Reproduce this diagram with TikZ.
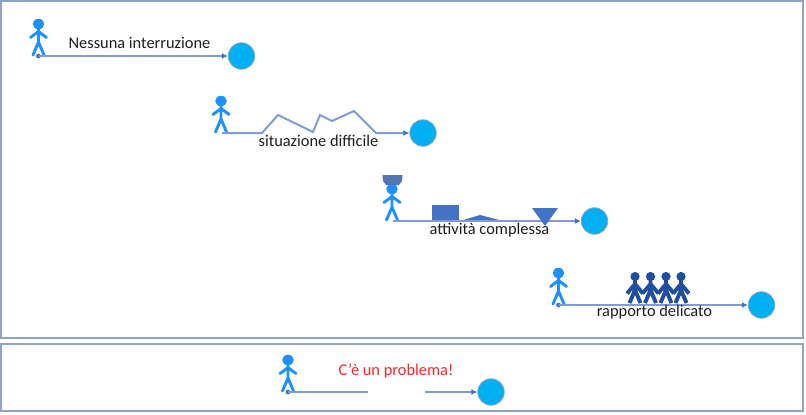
\documentclass[tikz,border=0pt]{standalone}
\usepackage{fontspec}
\setmainfont{Carlito}
\usetikzlibrary{arrows.meta}
\definecolor{frameblue}{HTML}{8FA3CC}
\definecolor{lineblue}{HTML}{7F9BD8}
\definecolor{shapeblue}{HTML}{4472C4}
\definecolor{manblue}{HTML}{1E90FF}
\definecolor{goalblue}{HTML}{00B0F0}
\definecolor{crowd}{HTML}{1F4E9E}
\tikzset{
  frame/.style={draw=frameblue,line width=1.3pt},
  goal/.style={circle,draw=frameblue,line width=.8pt,fill=goalblue,minimum size=26.5pt,inner sep=0pt},
  flow/.style={draw=lineblue,line width=2pt},
  flowarrow/.style={flow,-{Latex[length=6pt,width=6pt,color=shapeblue]}},
  label/.style={text=black!88,font=\fontsize{16.4}{18}\selectfont,inner sep=0pt},
}
\newcommand{\walker}[2]{%
  \begin{scope}[shift={(#1,#2)},draw=manblue,line width=2.9pt,line cap=round,line join=round]
    \fill[manblue] (0,-32) ellipse (5.8 and 5.2);
    \draw (0,-28) -- (0,-13) (-8,-18.5) -- (0,-24.5) -- (8,-18.5) (-5.5,-1) -- (0,-14) -- (5.5,-1);
  \end{scope}}
\newcommand{\crowdman}[2]{%
  \begin{scope}[shift={(#1,#2)},draw=crowd,line width=3.9pt,line join=round]
    \fill[crowd] (0,-26.5) circle (4.6);
    \draw (0,-23) -- (0,-10) (-8,-9.5) -- (0,-19) -- (8,-9.5) (-5.5,0) -- (0,-13) -- (5.5,0);
  \end{scope}}
\begin{document}
\begin{tikzpicture}[x=1pt,y=-1pt]
\useasboundingbox (0,0) rectangle (806,415);
\draw[frame] (1,1) rectangle (803,338);
\draw[frame] (1,344) rectangle (803,411);

% row 1
\walker{38.5}{56}
\coordinate (s1) at (38.5,56);
\node[goal] (g1) at (241.5,56) {};
\fill[shapeblue] (s1) circle (2.4);
\draw[flowarrow] (s1) -- (g1);
\node[label] (t1) at (139.5,43) {Nessuna interruzione};

% row 2
\walker{221}{133}
\coordinate (s2) at (222,133);
\node[goal] (g2) at (423,133) {};
\draw[flowarrow] (s2) -- (262,133) -- (278,115) -- (313,132) -- (320,115) -- (332,121) -- (354,111) -- (376,133) -- (g2);
\node[label] (t2) at (318.5,141) {situazione difficile};

% row 3
\walker{392}{221}
\fill[shapeblue!75!gray] (382.5,175) -- (402.5,175) -- (402,181) -- (399,185) -- (386,185) -- (383,181) -- cycle;
\coordinate (s3) at (393,221);
\node[goal] (g3) at (594.5,221) {};
\fill[shapeblue] (431.5,205) rectangle (458.5,221);
\fill[shapeblue] (460,221) -- (480,215) -- (503,221) -- cycle;
\draw[flowarrow] (s3) -- (g3);
\fill[shapeblue] (532,208) -- (558,208) -- (545,226) -- cycle;
\node[label] (t3) at (489.5,230) {attività complessa};

% row 4
\walker{558.5}{305}
\coordinate (s4) at (558.5,305);
\node[goal] (g4) at (761.5,305) {};
\crowdman{635}{303}
\crowdman{650.5}{303}
\crowdman{666}{303}
\crowdman{681}{303}
\fill[shapeblue] (s4) circle (2.4);
\draw[flowarrow] (s4) -- (g4);
\node[label] (t4) at (654.5,312.5) {rapporto delicato};

% bottom
\walker{288}{392}
\coordinate (s5) at (288,392);
\coordinate (e5) at (368,392);
\coordinate (r5) at (425,392);
\node[goal] (g5) at (491,392) {};
\fill[shapeblue] (s5) circle (2.4);
\draw[flow] (s5) -- (e5);
\draw[flowarrow] (r5) -- (g5);
\node[label,text=red!85!white] (t5) at (396,371) {C’è un problema!};
\end{tikzpicture}
\end{document}
